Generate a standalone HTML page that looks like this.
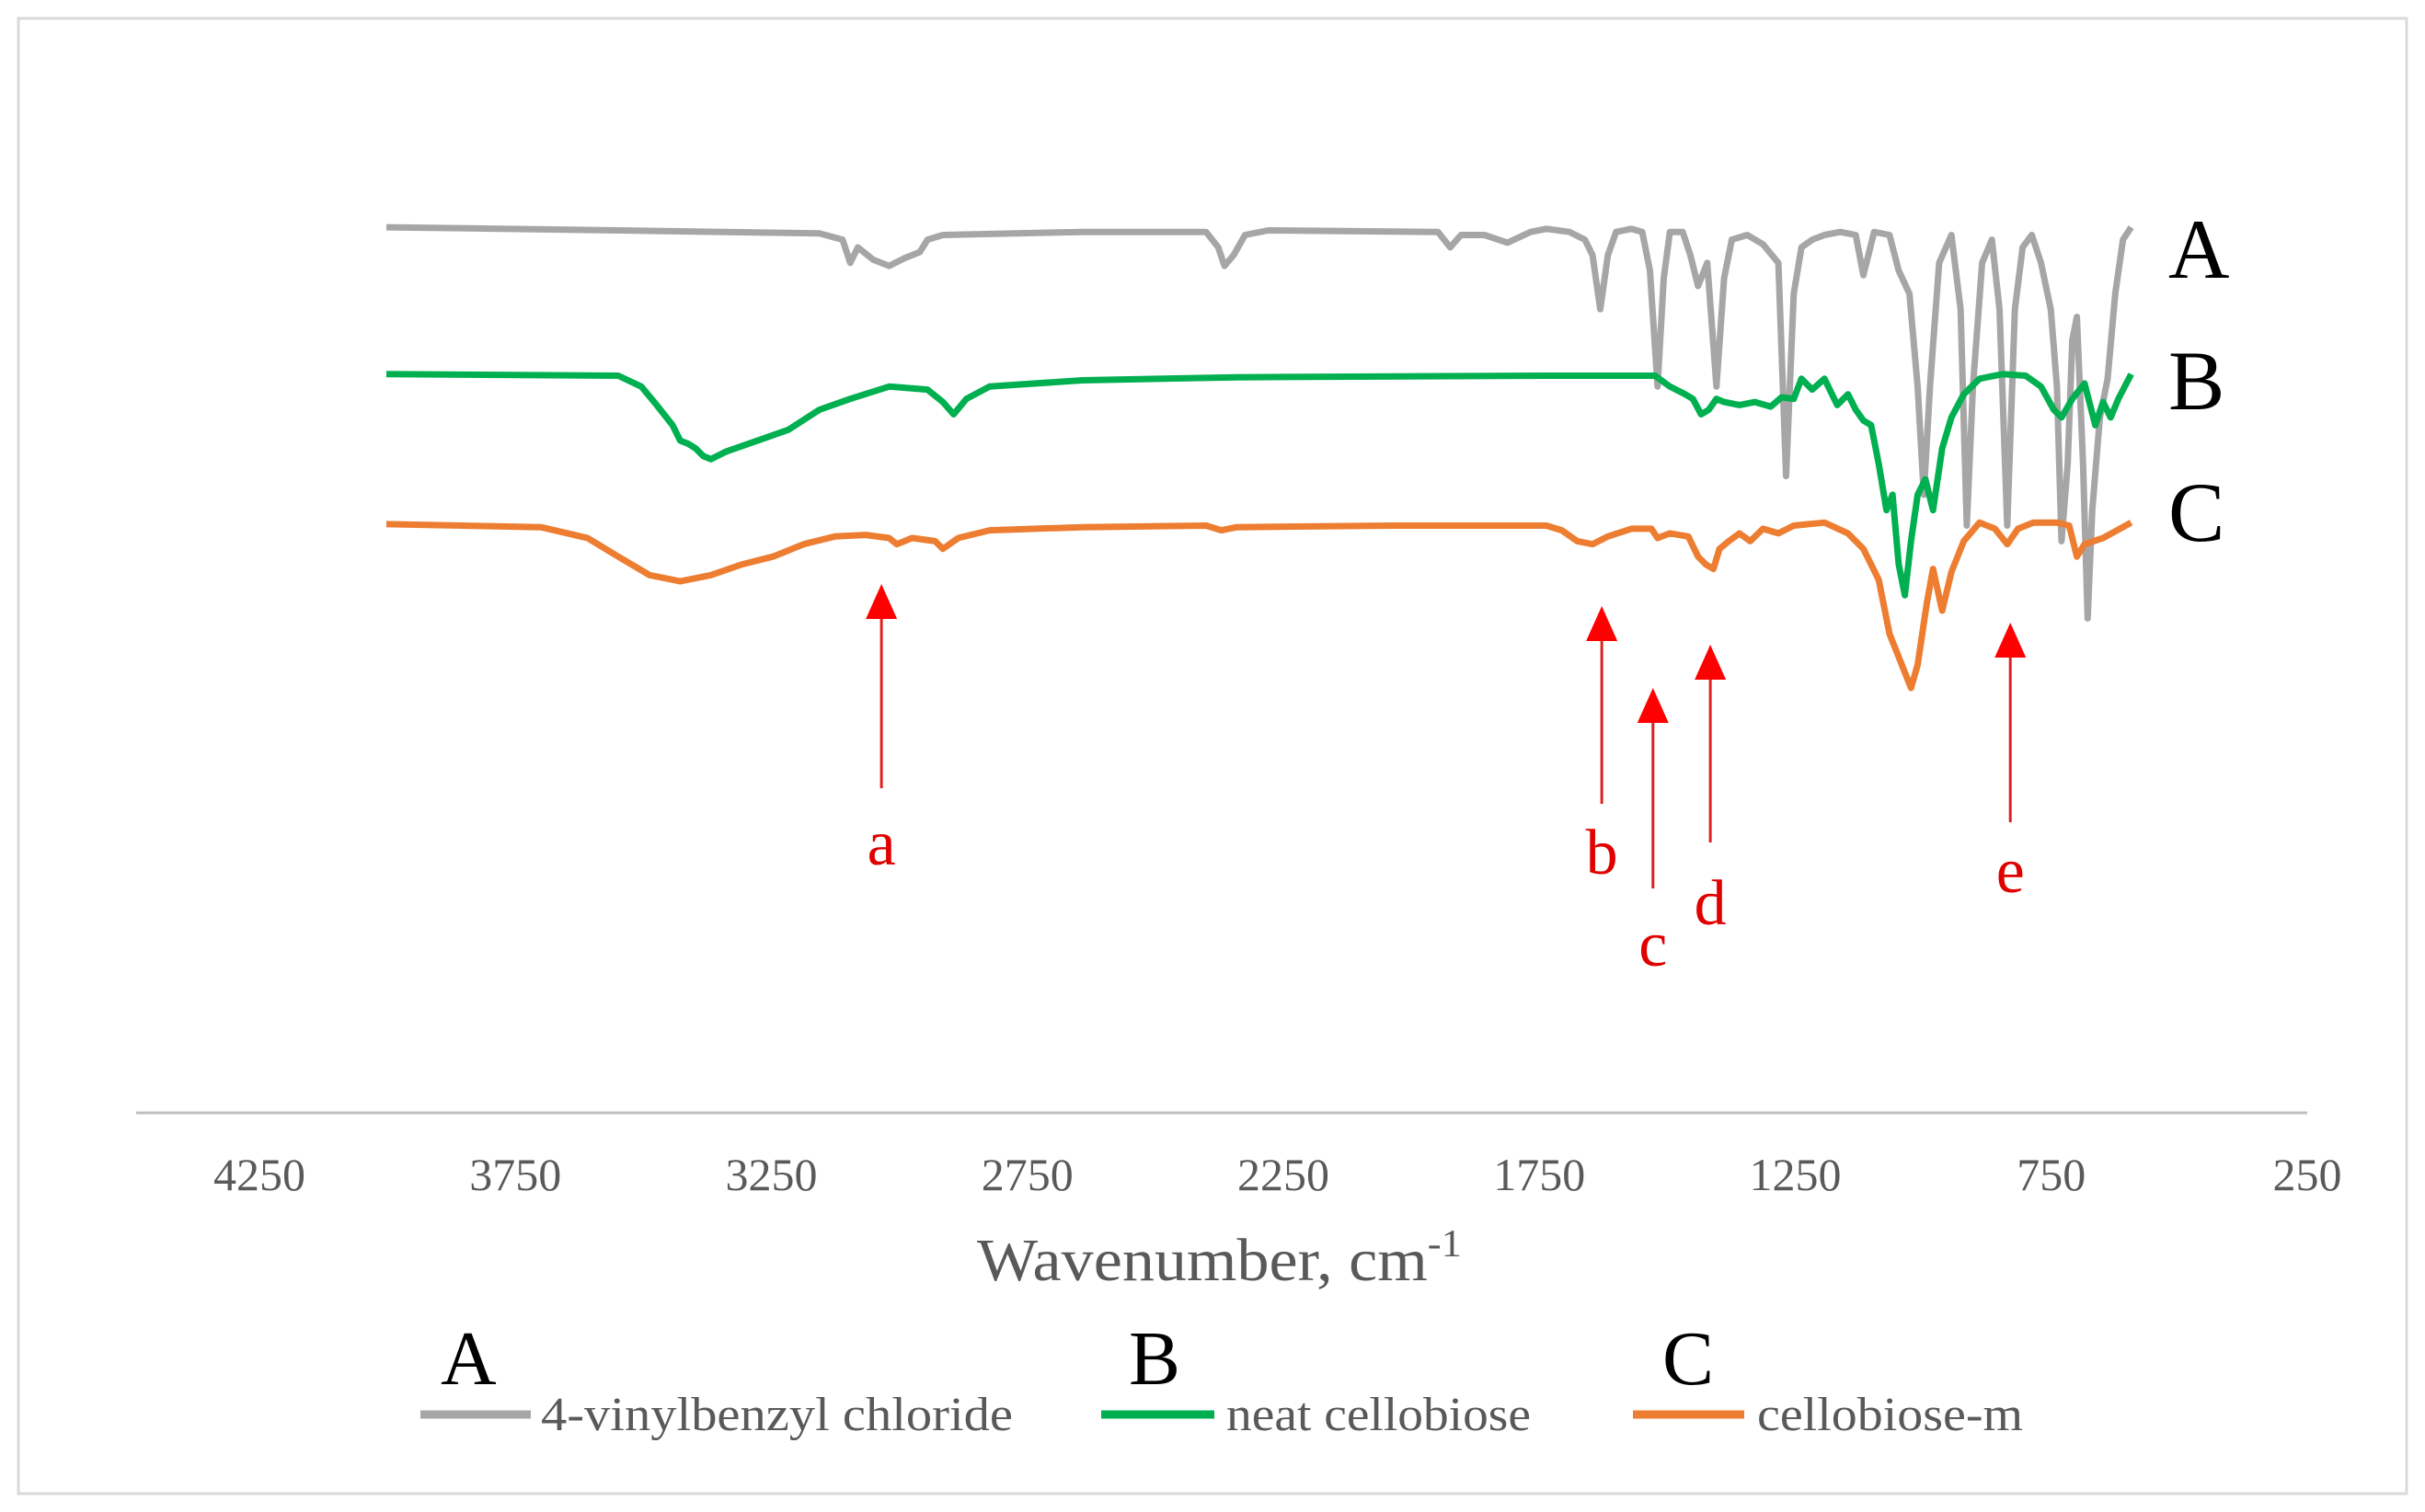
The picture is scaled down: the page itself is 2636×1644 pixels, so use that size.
<!DOCTYPE html>
<html><head><meta charset="utf-8"><style>
html,body{margin:0;padding:0;background:#fff;}
svg{display:block;}
text{font-family:"Liberation Serif",serif;}
</style></head><body>
<svg id="chart" width="2636" height="1644" viewBox="0 0 2636 1644" xmlns="http://www.w3.org/2000/svg">
<rect x="20" y="20" width="2596" height="1604" fill="#fff" stroke="#d9d9d9" stroke-width="3"/>
<line x1="148" y1="1210" x2="2508" y2="1210" stroke="#bfbfbf" stroke-width="3"/>
<g id="ticks"></g>
<text x="1062" y="1392" font-size="66" fill="#595959" textLength="527" lengthAdjust="spacingAndGlyphs">Wavenumber, cm<tspan font-size="42" dy="-26">-1</tspan></text>
<g id="series"></g>
<g id="annot"></g>
<text x="2357" y="302" font-size="92" fill="#000">A</text>
<text x="2357" y="445" font-size="92" fill="#000">B</text>
<text x="2357" y="588" font-size="92" fill="#000">C</text>
<g>
 <g>
  <text x="479" y="1505" font-size="84" fill="#000">A</text>
  <line x1="457" y1="1538" x2="577" y2="1538" stroke="#a6a6a6" stroke-width="9"/>
  <text x="588" y="1555" font-size="52" fill="#595959" textLength="513" lengthAdjust="spacingAndGlyphs">4-vinylbenzyl chloride</text>
 </g>
 <g>
  <text x="1227" y="1505" font-size="84" fill="#000">B</text>
  <line x1="1197" y1="1538" x2="1320" y2="1538" stroke="#00b050" stroke-width="9"/>
  <text x="1333" y="1555" font-size="52" fill="#595959" textLength="331" lengthAdjust="spacingAndGlyphs">neat cellobiose</text>
 </g>
 <g>
  <text x="1807" y="1505" font-size="84" fill="#000">C</text>
  <line x1="1775" y1="1538" x2="1896" y2="1538" stroke="#ed7d31" stroke-width="9"/>
  <text x="1910" y="1555" font-size="52" fill="#595959" textLength="289" lengthAdjust="spacingAndGlyphs">cellobiose-m</text>
 </g>
</g>
</svg>
<script>
const tickLabels = [4250,3750,3250,2750,2250,1750,1250,750,250];
const seriesNames = ['4-vinylbenzyl chloride','neat cellobiose','cellobiose-m'];
const waveA = [4002,3549,3156,3111,3096,3081,3051,3020,2990,2960,2945,2915,2643,2401,2377,2365,2347,2325,2280,1948,1924,1903,1857,1812,1767,1736,1691,1661,1646,1631,1616,1600,1570,1549,1534,1519,1507,1495,1470,1455,1440,1422,1404,1389,1374,1344,1313,1283,1268,1253,1238,1217,1193,1162,1132,1117,1096,1066,1048,1027,1011,999,987,969,945,927,915,903,885,866,851,836,821,806,788,770,751,739,730,718,709,700,688,679,670,655,640,625,610,594];
const depthA = [147,149,151,155,170,160,168,172,167,163,155,152,150,150,160,172,165,152,149,150,160,152,152,157,150,148,150,155,165,200,165,150,148,150,175,250,180,150,150,165,185,170,250,180,155,152,158,170,308,190,160,155,152,150,152,178,150,152,175,190,250,320,250,170,152,200,340,250,170,155,200,340,200,160,152,170,200,250,350,300,220,205,300,400,330,270,245,190,155,147];
const waveB = [4002,3549,3504,3474,3443,3428,3413,3398,3383,3368,3338,3277,3217,3156,3096,3020,2945,2915,2894,2869,2824,2643,2341,1736,1524,1495,1465,1450,1434,1419,1404,1389,1359,1329,1298,1277,1253,1238,1217,1193,1168,1147,1132,1117,1102,1087,1072,1060,1048,1036,1024,1011,996,981,963,945,921,890,845,800,770,745,730,709,685,664,649,634,619,594];
const depthB = [242,243,250,262,275,285,287,290,295,297,292,285,278,265,258,250,252,260,268,258,250,246,244,243,243,250,255,258,268,265,258,260,262,260,263,257,258,245,252,245,262,255,265,272,275,300,330,320,365,385,350,320,310,330,290,270,255,245,242,243,250,265,270,258,248,275,260,270,258,242];
const waveC = [4002,3700,3609,3549,3488,3428,3368,3307,3247,3187,3126,3066,3020,3005,2975,2930,2915,2885,2824,2643,2401,2371,2341,2038,1736,1706,1676,1646,1616,1570,1531,1519,1495,1459,1440,1425,1410,1398,1380,1359,1338,1313,1283,1253,1193,1147,1117,1087,1066,1042,1024,1011,993,981,963,945,921,890,860,836,815,785,739,715,700,685,649,594];
const depthC = [339,341,348,360,372,376,372,365,360,352,347,346,348,352,348,350,355,348,343,341,340,343,341,340,340,343,350,352,347,342,342,348,345,347,360,365,368,355,350,345,350,342,345,340,338,345,355,375,410,430,445,430,390,368,395,370,350,338,342,352,342,338,338,340,360,352,348,338];
const arrowWaves = [3035,1628,1528,1416,830];
const arrowLabels = ['a','b','c','d','e'];

function xScale(w){ return 282 + (4250 - w) / 4000 * 2226; }
function yScale(d){ return d * 1.681; }
const NS = 'http://www.w3.org/2000/svg';

const tg = document.getElementById('ticks');
tickLabels.forEach(t => {
  const el = document.createElementNS(NS,'text');
  
  
  el.setAttribute('x', xScale(t));
  el.setAttribute('y', 1294);
  el.setAttribute('font-size', 50);
  el.setAttribute('fill', '#595959');
  el.setAttribute('text-anchor', 'middle');
  el.textContent = t;
  tg.appendChild(el);
});

const sg = document.getElementById('series');
[[waveA,depthA,'#a6a6a6','series-a-line'],[waveB,depthB,'#00b050','series-b-line'],[waveC,depthC,'#ed7d31','series-c-line']].forEach(s => {
  const p = document.createElementNS(NS,'polyline');
  
  
  p.setAttribute('points', s[0].map((w,i) => xScale(w).toFixed(1)+','+yScale(s[1][i]).toFixed(1)).join(' '));
  p.setAttribute('fill','none');
  p.setAttribute('stroke', s[2]);
  p.setAttribute('stroke-width', 7);
  p.setAttribute('stroke-linejoin','round');
  sg.appendChild(p);
});

const ag = document.getElementById('annot');
const tipY = [635,659,748,701,677];
const baseY = [857,874,966,916,894];
const labelY = [940,950,1050,1005,970];
arrowWaves.forEach((w,i) => {
  const x = xScale(w);
  const ln = document.createElementNS(NS,'line');
  
  
  ln.setAttribute('x1', x); ln.setAttribute('x2', x);
  ln.setAttribute('y1', tipY[i] + 30); ln.setAttribute('y2', baseY[i]);
  ln.setAttribute('stroke', '#e02020'); ln.setAttribute('stroke-width', 3);
  ag.appendChild(ln);
  const tri = document.createElementNS(NS,'polygon');
  
  
  tri.setAttribute('points', x+','+tipY[i]+' '+(x-17)+','+(tipY[i]+38)+' '+(x+17)+','+(tipY[i]+38));
  tri.setAttribute('fill', '#ff0000');
  ag.appendChild(tri);
  const t = document.createElementNS(NS,'text');
  
  
  t.setAttribute('x', x); t.setAttribute('y', labelY[i]);
  t.setAttribute('font-size', 70); t.setAttribute('fill', '#e00000');
  t.setAttribute('text-anchor', 'middle');
  t.textContent = arrowLabels[i];
  ag.appendChild(t);
});
</script>
</body></html>
